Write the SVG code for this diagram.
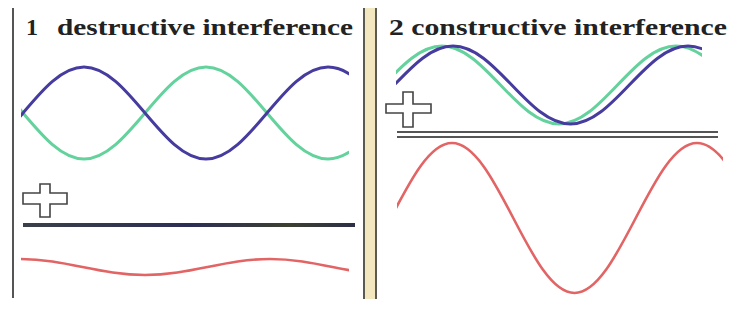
<svg xmlns="http://www.w3.org/2000/svg" width="734" height="327" viewBox="0 0 734 327">
<style>
.title{font-family:"Liberation Serif","Times New Roman",serif;font-weight:bold;font-size:24px;fill:#222}
.wave{fill:none;stroke-width:3;stroke-linecap:round}
.blue{stroke:#463c9f}
.green{stroke:#63d29c}
.red{stroke:#e26464;stroke-width:2.6}
.plus{fill:#fff;stroke:#444;stroke-width:1.6}
</style>
<defs>
<clipPath id="cl"><rect x="21" y="40" width="328" height="250"/></clipPath>
<clipPath id="cr1"><rect x="396" y="30" width="306" height="100"/></clipPath>
<clipPath id="cr2"><rect x="397" y="138" width="326" height="160"/></clipPath>
<linearGradient id="lg" x1="0" x2="1" y1="0" y2="0">
<stop offset="0" stop-color="#3a4048"/><stop offset="0.5" stop-color="#2c2f55"/><stop offset="0.8" stop-color="#3c4030"/><stop offset="1" stop-color="#2c2f48"/>
</linearGradient>
</defs>
<rect width="734" height="327" fill="#fff"/>
<g id="frame">
<line x1="13" y1="8" x2="13" y2="298" stroke="#555" stroke-width="2"/>
<rect x="364" y="8" width="12" height="291" fill="#f2e7bf"/>
<line x1="364" y1="8" x2="364" y2="299" stroke="#5a5a50" stroke-width="2"/>
<line x1="376" y1="8" x2="376" y2="299" stroke="#5a5a50" stroke-width="2"/>
</g>
<g id="title1">
<text class="title" x="26" y="35">1</text>
<text class="title" x="57" y="35" textLength="296" lengthAdjust="spacingAndGlyphs">destructive interference</text>
</g>
<g id="title2">
<text class="title" x="389" y="35" textLength="338" lengthAdjust="spacingAndGlyphs">2 constructive interference</text>
</g>
<g id="panel1">
<g clip-path="url(#cl)">
<path class="wave green" d="M -38 67 C 6.4 67, 39.6 159, 84 159 C 128.4 159, 161.6 67, 206 67 C 250.4 67, 283.6 159, 328 159 C 372.4 159, 405.6 67, 450 67"/>
<path class="wave blue" d="M -38 159 C 6.4 159, 39.6 67, 84 67 C 128.4 67, 161.6 159, 206 159 C 250.4 159, 283.6 67, 328 67 C 372.4 67, 405.6 159, 450 159"/>
<path class="wave red" d="M 20 259 C 65.5 259, 99.5 275, 145 275 C 190.5 275, 224.5 259, 270 259 C 315.5 259, 349.5 275, 395 275"/>
</g>
<path class="plus" d="M 40 184 H 50 V 193 H 67 V 204 H 50 V 217 H 40 V 204 H 23 V 193 H 40 Z"/>
<rect x="23" y="223" width="332" height="4" fill="url(#lg)"/>
</g>
<g id="panel2">
<g clip-path="url(#cr1)">
<path class="wave green" d="M 325 124 C 367.6 124, 399.4 46, 442 46 C 484.6 46, 516.4 124, 559 124 C 601.6 124, 633.4 46, 676 46 C 718.6 46, 750.4 124, 793 124"/>
<path class="wave blue" d="M 335.5 124 C 378.3 124, 410.2 46, 453 46 C 495.8 46, 527.7 124, 570.5 124 C 613.3 124, 645.2 46, 688 46 C 730.8 46, 762.7 124, 805.5 124"/>
</g>
<path class="plus" d="M 403 92 H 413 V 104 H 431 V 113 H 413 V 127 H 403 V 113 H 386 V 104 H 403 Z"/>
<line x1="397" y1="132" x2="718" y2="132" stroke="#555" stroke-width="2"/>
<line x1="397" y1="137" x2="718" y2="137" stroke="#555" stroke-width="2"/>
<g clip-path="url(#cr2)">
<path class="wave red" d="M 329.5 293 C 374.1 293, 407.4 143, 452 143 C 496.6 143, 529.9 293, 574.5 293 C 619.1 293, 652.4 143, 697 143 C 741.6 143, 774.9 293, 819.5 293"/>
</g>
</g>
</svg>
